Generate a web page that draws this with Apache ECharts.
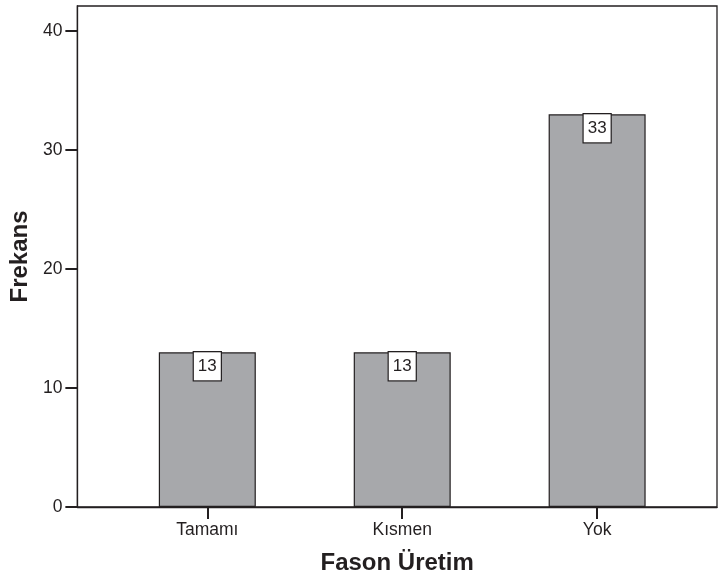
<!DOCTYPE html>
<html>
<head>
<meta charset="utf-8">
<script src="https://cdn.jsdelivr.net/npm/echarts@6/dist/echarts.min.js"></script>
<style>
html,body{margin:0;padding:0;background:#fff;}
#chart{width:718px;height:582px;}
</style>
</head>
<body>
<div id="chart"></div>
<script>
var categories = ["Tamamı", "Kısmen", "Yok"];
var values = [13, 13, 33];
var yTicks = [0, 10, 20, 30, 40];
var xName = "Fason Üretim";
var yName = "Frekans";

var positions = categories.map(function (c, i) { return i + 1; });
var seriesData = values.map(function (v, i) { return [positions[i], v]; });
var FONT = '"Liberation Sans", Arial, Helvetica, sans-serif';

var chart = echarts.init(document.getElementById('chart'), null, {renderer: 'canvas'});
chart.setOption({
  animation: false,
  backgroundColor: '#ffffff',
  grid: {
    left: 77, top: 6, right: 1, bottom: 75,
    show: true, borderColor: '#231f20', borderWidth: 1.3, backgroundColor: 'transparent'
  },
  xAxis: {
    type: 'value',
    min: 0.3333,
    max: 3.615,
    name: xName,
    nameLocation: 'middle',
    nameGap: 44,
    nameTextStyle: {fontFamily: FONT, fontSize: 24, fontWeight: 'bold', color: '#231f20'},
    splitLine: {show: false},
    axisLine: {show: true, lineStyle: {color: '#231f20', width: 1.3}},
    axisTick: {show: true, length: 12, inside: false, customValues: positions, lineStyle: {color: '#231f20', width: 2}},
    axisLabel: {
      customValues: positions,
      margin: 14,
      fontFamily: FONT, fontSize: 17.5, color: '#231f20',
      formatter: function (v) { return categories[Math.round(v) - 1] || ''; }
    }
  },
  yAxis: {
    type: 'value',
    min: 0,
    max: 42.1,
    name: yName,
    nameLocation: 'middle',
    nameGap: 41,
    nameTextStyle: {fontFamily: FONT, fontSize: 24, fontWeight: 'bold', color: '#231f20'},
    splitLine: {show: false},
    axisLine: {show: true, lineStyle: {color: '#231f20', width: 1.3}},
    axisTick: {show: true, length: 12, inside: false, customValues: yTicks, lineStyle: {color: '#231f20', width: 2}},
    axisLabel: {
      customValues: yTicks,
      margin: 15,
      fontFamily: FONT, fontSize: 17.5, color: '#231f20'
    }
  },
  series: [{
    type: 'bar',
    data: seriesData,
    barWidth: 97,
    itemStyle: {color: '#a7a8ab', borderColor: '#231f20', borderWidth: 1.2},
    label: {
      show: true,
      position: 'insideTop',
      distance: 0,
      formatter: function (p) { return String(p.value[1]); },
      fontFamily: FONT, fontSize: 17, color: '#231f20',
      backgroundColor: '#ffffff',
      borderColor: '#231f20', borderWidth: 1.2,
      padding: [6, 4, 5, 4],
      lineHeight: 17
    }
  }]
});
</script>
</body>
</html>
